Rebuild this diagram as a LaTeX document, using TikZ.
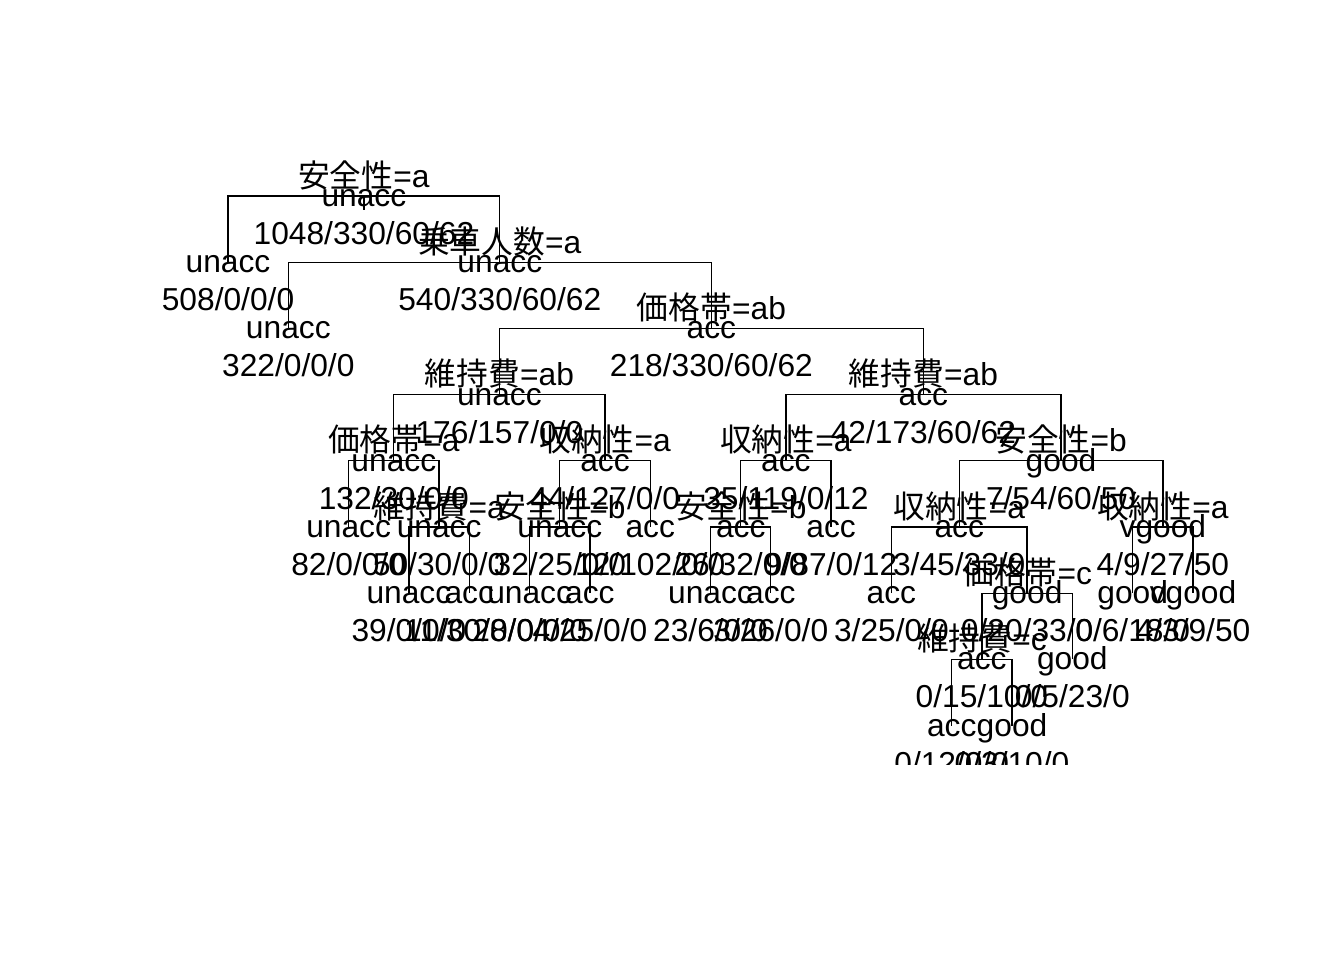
\documentclass[tikz,border=0pt]{standalone}
\usepackage{fontspec}
\setmainfont{Liberation Sans}
\newfontfamily\jp{Noto Sans CJK JP}

\begin{document}
\begin{tikzpicture}[x=0.75pt, y=-0.75pt, every node/.style={font=\fontsize{23.8}{28}\selectfont}]
    \tikzstyle{tn} = [coordinate]
    \tikzstyle{split} = [anchor=base, inner sep=0pt, yshift=6.75pt]
    \tikzstyle{cls} = [anchor=base, inner sep=0pt, yshift=-7.9pt]
    \tikzstyle{cnt} = [anchor=base, inner sep=0pt, yshift=-36.4pt]
    \tikzstyle{branch} = [draw, line width=1pt]

    \useasboundingbox (0,0) rectangle (1344,960);
    \begin{scope}
    \clip (0,0) rectangle (1344,764);

    % split nodes
    \node [tn] (n1) at (363.9,196) {};
    \node [tn] (n3) at (499.8,262.2) {};
    \node [tn] (n7) at (711.4,328.4) {};
    \node [tn] (n14) at (499.4,394.6) {};
    \node [tn] (n15) at (923.4,394.6) {};
    \node [tn] (n28) at (393.8,460.8) {};
    \node [tn] (n29) at (605.0,460.8) {};
    \node [tn] (n30) at (785.9,460.8) {};
    \node [tn] (n31) at (1061.0,460.8) {};
    \node [tn] (n57) at (439.1,527) {};
    \node [tn] (n58) at (559.8,527) {};
    \node [tn] (n60) at (740.7,527) {};
    \node [tn] (n62) at (959.2,527) {};
    \node [tn] (n63) at (1162.9,527) {};
    \node [tn] (n125) at (1027.1,593.2) {};
    \node [tn] (n250) at (981.9,659.4) {};

    % leaves
    \node [tn] (n2) at (228.0,262.2) {};
    \node [tn] (n6) at (288.3,328.4) {};
    \node [tn] (n56) at (348.6,527) {};
    \node [tn] (n114) at (408.9,593.2) {};
    \node [tn] (n115) at (469.2,593.2) {};
    \node [tn] (n116) at (529.6,593.2) {};
    \node [tn] (n117) at (589.9,593.2) {};
    \node [tn] (n59) at (650.2,527) {};
    \node [tn] (n120) at (710.5,593.2) {};
    \node [tn] (n121) at (770.8,593.2) {};
    \node [tn] (n61) at (831.1,527) {};
    \node [tn] (n124) at (891.4,593.2) {};
    \node [tn] (n500) at (951.7,725.6) {};
    \node [tn] (n501) at (1012.0,725.6) {};
    \node [tn] (n251) at (1072.3,659.4) {};
    \node [tn] (n126) at (1132.7,593.2) {};
    \node [tn] (n127) at (1193.0,593.2) {};

    % branches
    \coordinate (stub) at (363.9,210);
    \draw [branch] (n1) -- (stub);
    \draw [branch] (n2) |- (n1) -| (n3);
    \draw [branch] (n6) |- (n3) -| (n7);
    \draw [branch] (n14) |- (n7) -| (n15);
    \draw [branch] (n28) |- (n14) -| (n29);
    \draw [branch] (n30) |- (n15) -| (n31);
    \draw [branch] (n56) |- (n28) -| (n57);
    \draw [branch] (n58) |- (n29) -| (n59);
    \draw [branch] (n60) |- (n30) -| (n61);
    \draw [branch] (n62) |- (n31) -| (n63);
    \draw [branch] (n114) |- (n57) -| (n115);
    \draw [branch] (n116) |- (n58) -| (n117);
    \draw [branch] (n120) |- (n60) -| (n121);
    \draw [branch] (n124) |- (n62) -| (n125);
    \draw [branch] (n126) |- (n63) -| (n127);
    \draw [branch] (n250) |- (n125) -| (n251);
    \draw [branch] (n500) |- (n250) -| (n501);

    % splits
    \node [split] (s1) at (n1) {{\jp 安全性}=a};
    \node [split] (s3) at (n3) {{\jp 乗車人数}=a};
    \node [split] (s7) at (n7) {{\jp 価格帯}=ab};
    \node [split] (s14) at (n14) {{\jp 維持費}=ab};
    \node [split] (s15) at (n15) {{\jp 維持費}=ab};
    \node [split] (s28) at (n28) {{\jp 価格帯}=a};
    \node [split] (s29) at (n29) {{\jp 収納性}=a};
    \node [split] (s30) at (n30) {{\jp 収納性}=a};
    \node [split] (s31) at (n31) {{\jp 安全性}=b};
    \node [split] (s57) at (n57) {{\jp 維持費}=a};
    \node [split] (s58) at (n58) {{\jp 安全性}=b};
    \node [split] (s60) at (n60) {{\jp 安全性}=b};
    \node [split] (s62) at (n62) {{\jp 収納性}=a};
    \node [split] (s63) at (n63) {{\jp 収納性}=a};
    \node [split] (s125) at (n125) {{\jp 価格帯}=c};
    \node [split] (s250) at (n250) {{\jp 維持費}=c};

    % classes
    \node [cls] (c1) at (n1) {unacc};
    \node [cls] (c2) at (n2) {unacc};
    \node [cls] (c3) at (n3) {unacc};
    \node [cls] (c6) at (n6) {unacc};
    \node [cls] (c7) at (n7) {acc};
    \node [cls] (c14) at (n14) {unacc};
    \node [cls] (c15) at (n15) {acc};
    \node [cls] (c28) at (n28) {unacc};
    \node [cls] (c29) at (n29) {acc};
    \node [cls] (c30) at (n30) {acc};
    \node [cls] (c31) at (n31) {good};
    \node [cls] (c56) at (n56) {unacc};
    \node [cls] (c57) at (n57) {unacc};
    \node [cls] (c58) at (n58) {unacc};
    \node [cls] (c59) at (n59) {acc};
    \node [cls] (c60) at (n60) {acc};
    \node [cls] (c61) at (n61) {acc};
    \node [cls] (c62) at (n62) {acc};
    \node [cls] (c63) at (n63) {vgood};
    \node [cls] (c114) at (n114) {unacc};
    \node [cls] (c115) at (n115) {acc};
    \node [cls] (c116) at (n116) {unacc};
    \node [cls] (c117) at (n117) {acc};
    \node [cls] (c120) at (n120) {unacc};
    \node [cls] (c121) at (n121) {acc};
    \node [cls] (c124) at (n124) {acc};
    \node [cls] (c125) at (n125) {good};
    \node [cls] (c126) at (n126) {good};
    \node [cls] (c127) at (n127) {vgood};
    \node [cls] (c250) at (n250) {acc};
    \node [cls] (c251) at (n251) {good};
    \node [cls] (c500) at (n500) {acc};
    \node [cls] (c501) at (n501) {good};

    % counts
    \node [cnt] (k1) at (n1) {1048/330/60/62};
    \node [cnt] (k2) at (n2) {508/0/0/0};
    \node [cnt] (k3) at (n3) {540/330/60/62};
    \node [cnt] (k6) at (n6) {322/0/0/0};
    \node [cnt] (k7) at (n7) {218/330/60/62};
    \node [cnt] (k14) at (n14) {176/157/0/0};
    \node [cnt] (k15) at (n15) {42/173/60/62};
    \node [cnt] (k28) at (n28) {132/30/0/0};
    \node [cnt] (k29) at (n29) {44/127/0/0};
    \node [cnt] (k30) at (n30) {35/119/0/12};
    \node [cnt] (k31) at (n31) {7/54/60/50};
    \node [cnt] (k56) at (n56) {82/0/0/0};
    \node [cnt] (k57) at (n57) {50/30/0/0};
    \node [cnt] (k58) at (n58) {32/25/0/0};
    \node [cnt] (k59) at (n59) {12/102/0/0};
    \node [cnt] (k60) at (n60) {26/32/0/0};
    \node [cnt] (k61) at (n61) {9/87/0/12};
    \node [cnt] (k62) at (n62) {3/45/33/0};
    \node [cnt] (k63) at (n63) {4/9/27/50};
    \node [cnt] (k114) at (n114) {39/0/0/0};
    \node [cnt] (k115) at (n115) {11/30/0/0};
    \node [cnt] (k116) at (n116) {28/0/0/0};
    \node [cnt] (k117) at (n117) {4/25/0/0};
    \node [cnt] (k120) at (n120) {23/6/0/0};
    \node [cnt] (k121) at (n121) {3/26/0/0};
    \node [cnt] (k124) at (n124) {3/25/0/0};
    \node [cnt] (k125) at (n125) {0/20/33/0};
    \node [cnt] (k126) at (n126) {0/6/18/0};
    \node [cnt] (k127) at (n127) {4/3/9/50};
    \node [cnt] (k250) at (n250) {0/15/10/0};
    \node [cnt] (k251) at (n251) {0/5/23/0};
    \node [cnt] (k500) at (n500) {0/12/0/0};
    \node [cnt] (k501) at (n501) {0/3/10/0};
    \end{scope}
\end{tikzpicture}
\end{document}
